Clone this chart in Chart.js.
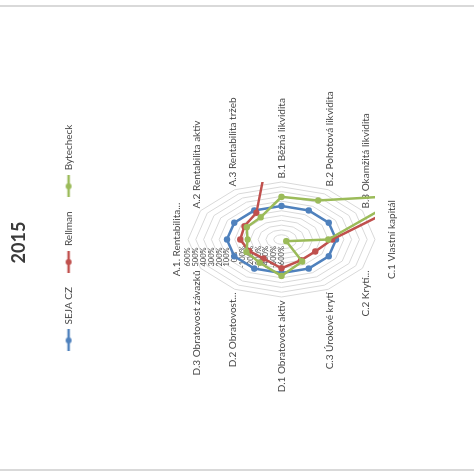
<!DOCTYPE html>
<html>
<head>
<meta charset="utf-8">
<script src="https://cdn.jsdelivr.net/npm/chart.js@4.4.1/dist/chart.umd.min.js"></script>
<style>
  html, body { margin: 0; padding: 0; background: #ffffff; }
  #stage { position: relative; width: 474px; height: 476px; overflow: hidden; background: #ffffff; }
  #frame { position: absolute; left: -1px; top: 1px; width: 476px; height: 474px;
           transform: rotate(-90deg); transform-origin: 50% 50%; }
  #frame canvas { display: block; }
  .edge { position: absolute; left: 0; width: 474px; height: 2px; background: #d9d9d9; }
</style>
</head>
<body>
<div id="stage">
  <div class="edge" style="top:5px"></div>
  <div class="edge" style="top:469px"></div>
  <div id="frame"><canvas id="chart" width="476" height="474"></canvas></div>
</div>
<script>
// ---- chart data ----
const chartTitle = '2015\u2002';
const categories = [
  'A.1. Rentabilita...', 'A.2 Rentabilita aktiv', 'A.3 Rentabilita tržeb',
  'B.1 Běžná likvidita', 'B.2 Pohotová likvidita', 'B.3 Okamžitá likvidita',
  'C.1 Vlastní kapitál', 'C.2 Krytí...', 'C.3 Úrokové krytí',
  'D.1 Obratovost aktiv', 'D.2 Obratovost...', 'D.3 Obratovost závazků'
];
const seriesNames = ['SEJA CZ', 'Rellman', 'Bytecheck'];
const sejaCz    = [100, 100, 100, 100, 100, 100, 100, 100, 100, 100, 100, 100];
const rellman   = [-70, -50, 45, 2600, 2400, 2000, 50, -100, -100, 0, -140, -120];
const bytecheck = [-165, -85, -65, 290, 340, 1240, 0, -530, -70, 160, -40, -80];
const axisMin = -600, axisMax = 600, axisStep = 100;

// ---- layout of the rotated plot (canvas coordinates) ----
const CX = 236.5, CY = 281.5;   // centre of the web
const RY = 93.5, RX = 57.5;     // vertical and horizontal radii of the web
const K = RX / RY;

// Radial scale whose web is squeezed horizontally into an ellipse
class EllipseRadialScale extends Chart.RadialLinearScale {
  static id = 'ellipseRadial';
  setCenterPoint() {
    this.xCenter = CX;
    this.yCenter = CY;
    this.drawingArea = RY;
  }
  getPointPosition(index, distanceFromCenter, additionalAngle = 0) {
    const p = super.getPointPosition(index, distanceFromCenter, additionalAngle);
    p.x = this.xCenter + (p.x - this.xCenter) * K;
    return p;
  }
  fit() {
    super.fit();
    // category labels: centred above/below the top/bottom spokes, beside the others
    const n = this._pointLabels.length;
    const lh = this.options.pointLabels.font.size * 1.2;
    const items = [];
    for (let i = 0; i < n; i++) {
      const deg = Math.round(i * 360 / n);
      const p = this.getPointPosition(i, this.drawingArea + 4);
      let x = p.x, yMid = p.y, align;
      if (deg === 0) { align = 'center'; yMid = p.y - 7.5; }
      else if (deg === 180) { align = 'center'; yMid = p.y + 13; }
      else if (deg < 180) { align = 'left'; x = p.x + 1; }
      else { align = 'right'; x = p.x - 1; }
      items.push({ x, y: yMid - lh / 2, textAlign: align, left: x, right: x,
                   top: yMid - lh / 2, bottom: yMid + lh / 2, visible: true });
    }
    this._pointLabelItems = items;
  }
  drawLabels() {
    // value labels sit just left of the first spoke
    this.ctx.save();
    this.ctx.translate(-17.5, 0);
    super.drawLabels();
    this.ctx.restore();
  }
}
Chart.register(EllipseRadialScale);

// lines and markers leaving the web are cut at its bounding box
const clipToWeb = {
  id: 'clipToWeb',
  beforeDatasetsDraw(chart) {
    const s = chart.scales.r, ctx = chart.ctx;
    ctx.save();
    ctx.beginPath();
    ctx.rect(s.xCenter - s.drawingArea * K, s.yCenter - s.drawingArea, 2 * s.drawingArea * K, 2 * s.drawingArea);
    ctx.clip();
  },
  afterDatasetsDraw(chart) { chart.ctx.restore(); }
};

const colors = ['#4F81BD', '#C0504D', '#9BBB59'];
const seriesData = [sejaCz, rellman, bytecheck];

function legendIcon(color) {
  const c = document.createElement('canvas');
  c.width = 22; c.height = 8;
  const g = c.getContext('2d');
  g.strokeStyle = color; g.lineWidth = 2.5;
  g.beginPath(); g.moveTo(0, 4); g.lineTo(22, 4); g.stroke();
  g.fillStyle = color;
  g.beginPath(); g.arc(11, 4, 3, 0, Math.PI * 2); g.fill();
  return c;
}

const textColor = '#474747';
const fontFamily = 'Lato, "Open Sans", sans-serif';

new Chart(document.getElementById('chart'), {
  type: 'radar',
  data: {
    labels: categories,
    datasets: seriesNames.map((name, i) => ({
      label: name,
      data: seriesData[i],
      borderColor: colors[i],
      backgroundColor: colors[i],
      pointBackgroundColor: colors[i],
      pointBorderColor: colors[i],
      borderWidth: 2.5,
      pointRadius: 3.2,
      pointBorderWidth: 0,
      fill: false,
      order: seriesNames.length - i
    }))
  },
  options: {
    responsive: false,
    animation: false,
    devicePixelRatio: 1,
    layout: { padding: 0 },
    scales: {
      r: {
        type: 'ellipseRadial',
        min: axisMin,
        max: axisMax,
        startAngle: 0,
        angleLines: { display: false },
        grid: { color: '#d9d9d9', lineWidth: 1 },
        ticks: {
          stepSize: axisStep,
          callback: v => v + '%',
          showLabelBackdrop: false,
          backdropPadding: 0,
          color: textColor,
          font: { family: fontFamily, size: 7.5 }
        },
        pointLabels: {
          color: textColor,
          padding: 0,
          font: { family: fontFamily, size: 10 }
        }
      }
    },
    plugins: {
      title: {
        display: true,
        text: chartTitle,
        color: '#3a3a3a',
        font: { family: fontFamily, size: 18, weight: 'bold' },
        padding: { top: 8, bottom: 20 }
      },
      legend: {
        display: true,
        position: 'top',
        labels: {
          usePointStyle: true,
          pointStyleWidth: 22,
          boxHeight: 8,
          padding: 14,
          color: textColor,
          font: { family: fontFamily, size: 10 },
          generateLabels(chart) {
            return chart.data.datasets.map((ds, i) => ({
              text: ds.label,
              fillStyle: ds.borderColor,
              strokeStyle: ds.borderColor,
              fontColor: textColor,
              lineWidth: 0,
              pointStyle: legendIcon(ds.borderColor),
              hidden: false,
              datasetIndex: i
            }));
          }
        }
      },
      tooltip: { enabled: false }
    }
  },
  plugins: [clipToWeb]
});
</script>
</body>
</html>
